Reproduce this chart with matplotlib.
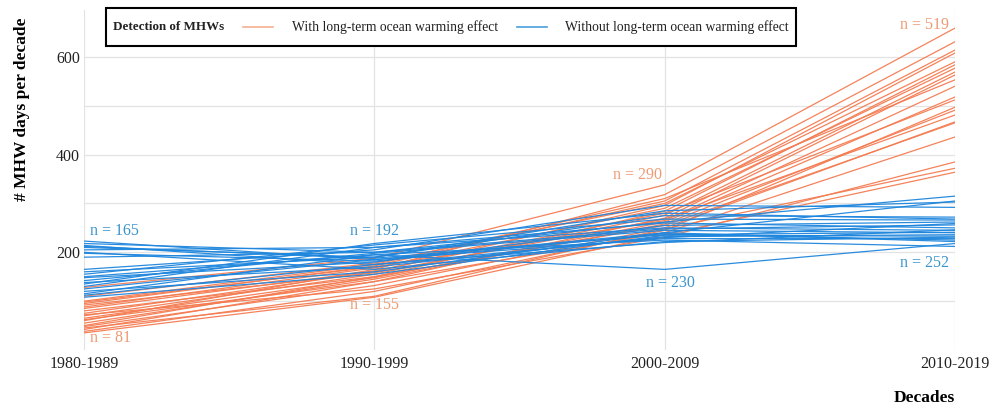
import matplotlib
matplotlib.use("Agg")
import matplotlib.pyplot as plt
from matplotlib.lines import Line2D
from matplotlib.offsetbox import AnchoredOffsetbox, HPacker, TextArea, DrawingArea
from matplotlib.ticker import FixedLocator

plt.rcParams['font.family'] = ['Liberation Serif', 'DejaVu Serif']

decades = ["1980-1989", "1990-1999", "2000-2009", "2010-2019"]

# MHW days per decade, one row per site
with_trend = [
    [128, 188, 338, 659],
    [60, 165, 318, 631],
    [95, 172, 305, 614],
    [75, 160, 296, 608],
    [110, 178, 300, 590],
    [50, 150, 284, 584],
    [88, 168, 290, 577],
    [70, 155, 276, 569],
    [42, 140, 270, 563],
    [100, 175, 310, 553],
    [98, 170, 265, 540],
    [65, 148, 262, 518],
    [85, 162, 280, 512],
    [38, 120, 245, 497],
    [55, 145, 258, 491],
    [92, 158, 268, 481],
    [48, 132, 250, 467],
    [80, 150, 255, 465],
    [62, 140, 240, 436],
    [72, 125, 231, 385],
    [45, 110, 248, 372],
    [35, 108, 236, 364],
]

without_trend = [
    [223, 185, 240, 305],
    [218, 200, 262, 315],
    [214, 175, 230, 259],
    [210, 190, 285, 303],
    [205, 210, 250, 245],
    [200, 165, 222, 231],
    [198, 182, 238, 225],
    [190, 200, 248, 256],
    [212, 188, 236, 241],
    [150, 195, 165, 218],
    [165, 205, 296, 292],
    [160, 190, 275, 272],
    [155, 215, 268, 266],
    [148, 180, 255, 262],
    [142, 198, 245, 240],
    [138, 170, 232, 236],
    [130, 210, 260, 250],
    [125, 185, 228, 228],
    [120, 160, 240, 222],
    [115, 195, 225, 212],
    [112, 175, 220, 246],
    [108, 155, 235, 233],
    [135, 218, 280, 268],
]

# number of events per decade
n_with = [81, 155, 290, 519]
n_without = [165, 192, 230, 252]

orange = "#F47C52"
blue = "#1F86DD"
orange_txt = "#EE9A72"
blue_txt = "#3A94CE"
serif = ['Liberation Serif', 'DejaVu Serif']

fig = plt.figure(figsize=(9.94, 4.04), dpi=100)
ax = fig.add_axes([84 / 994, 1 - 350 / 404, 871 / 994, 340 / 404])

x = range(len(decades))
for row in with_trend:
    ax.plot(x, row, color=orange, lw=0.9, alpha=0.95, solid_capstyle='round')
for row in without_trend:
    ax.plot(x, row, color=blue, lw=0.9, alpha=0.95, solid_capstyle='round')

# count labels
lab = dict(fontsize=11.5)
ax.text(0.02, 243, f"n = {n_without[0]}", color=blue_txt, ha='left', va='center', **lab)
ax.text(0.02, 24, f"n = {n_with[0]}", color=orange_txt, ha='left', va='center', **lab)
ax.text(1.0, 243, f"n = {n_without[1]}", color=blue_txt, ha='center', va='center', **lab)
ax.text(1.0, 93, f"n = {n_with[1]}", color=orange_txt, ha='center', va='center', **lab)
ax.text(1.99, 358, f"n = {n_with[2]}", color=orange_txt, ha='right', va='center', **lab)
ax.text(2.02, 138, f"n = {n_without[2]}", color=blue_txt, ha='center', va='center', **lab)
ax.text(2.98, 179, f"n = {n_without[3]}", color=blue_txt, ha='right', va='center', **lab)
ax.text(2.98, 665, f"n = {n_with[3]}", color=orange_txt, ha='right', va='center', **lab)

ax.set_xlim(0, 3)
ax.set_ylim(0, 696)
ax.set_xticks(list(x))
ax.set_xticklabels(decades, fontsize=11.5)
ax.yaxis.set_major_locator(FixedLocator([200, 400, 600]))
ax.yaxis.set_minor_locator(FixedLocator([100, 300, 500]))
ax.tick_params(axis='both', which='both', length=0, labelsize=11.5, colors='#222222')
ax.tick_params(axis='y', pad=3)
ax.tick_params(axis='x', pad=4)
ax.grid(True, which='both', color='#E3E3E3', lw=0.9)
ax.set_axisbelow(True)
for s in ax.spines.values():
    s.set_visible(False)

ax.set_ylabel("# MHW days per decade", fontsize=12.5, fontweight='bold', loc='top')
ax.yaxis.set_label_coords(-0.062, 0.979)
ax.set_xlabel("Decades", fontsize=12.5, fontweight='bold', loc='right', labelpad=13)

# legend laid out in one row, title on the left
tprops = dict(fontsize=9.8, family=serif, color='#222222')
title = TextArea("Detection of MHWs",
                 textprops=dict(fontweight='bold', fontsize=9.4, family=serif, color='#222222'))
key1 = DrawingArea(21.6, 17)
key1.add_artist(Line2D([0, 21.6], [8.5, 8.5], color="#F5B08F", lw=1.2))
key2 = DrawingArea(21.6, 17)
key2.add_artist(Line2D([0, 21.6], [8.5, 8.5], color="#4A9EDD", lw=1.2))
lab1 = TextArea("With long-term ocean warming effect", textprops=tprops)
lab2 = TextArea("Without long-term ocean warming effect", textprops=tprops)
row = HPacker(children=[title, key1, lab1, key2, lab2], align='center', pad=0, sep=13.5)
box = AnchoredOffsetbox(loc='upper left', child=row, pad=0.5, borderpad=0, frameon=True,
                        prop=dict(size=10),
                        bbox_to_anchor=(106 / 994, 1 - 8 / 404),
                        bbox_transform=fig.transFigure)
box.patch.set_boxstyle("square,pad=0")
box.patch.set_edgecolor('black')
box.patch.set_linewidth(1.5)
fig.add_artist(box)

fig.savefig("out.png", dpi=100)
